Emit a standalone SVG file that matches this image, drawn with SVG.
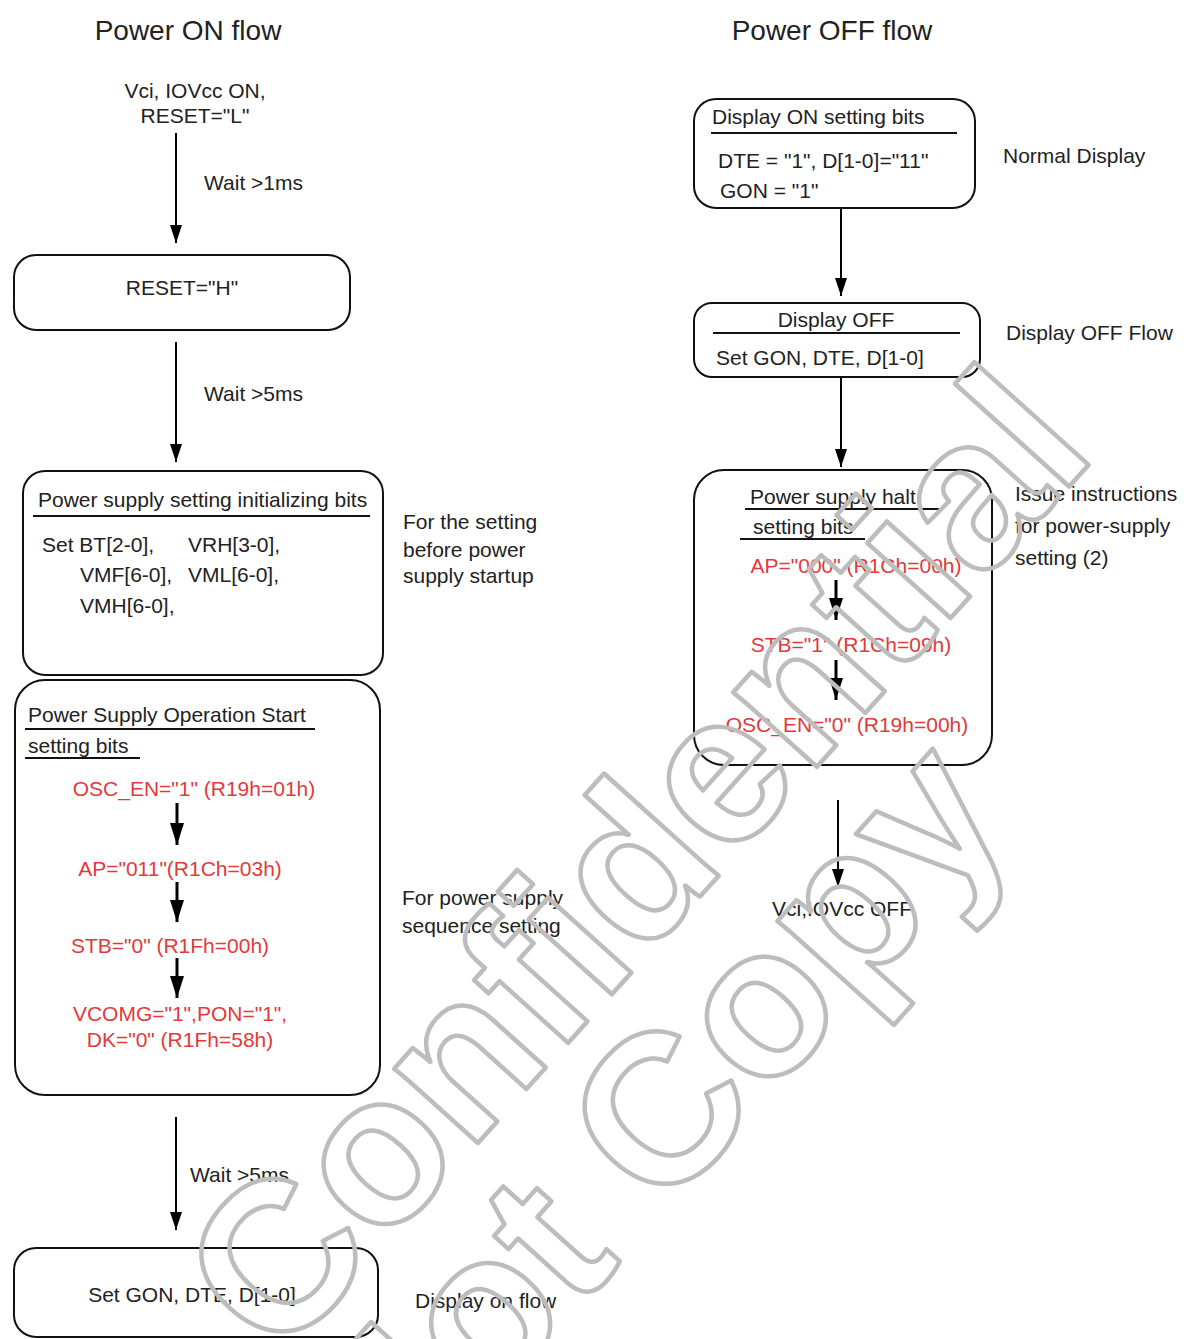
<svg xmlns="http://www.w3.org/2000/svg" width="1190" height="1339" viewBox="0 0 1190 1339">
<defs>
<marker id="ah" markerUnits="userSpaceOnUse" markerWidth="18" markerHeight="12" refX="18" refY="6" orient="auto"><path d="M0,0 L18,6 L0,12 z" fill="#000"/></marker>
<marker id="ahb" markerUnits="userSpaceOnUse" markerWidth="22" markerHeight="14" refX="22" refY="7" orient="auto"><path d="M0,0 L22,7 L0,14 z" fill="#000"/></marker>
<style>
text{font-family:"Liberation Sans",Arial,sans-serif;font-size:21px;fill:#222}
.title{font-size:28px}
.red{fill:#e23a3a}
.mid{text-anchor:middle}
.box{fill:none;stroke:#111;stroke-width:2}
.ul{stroke:#111;stroke-width:2}
.con{stroke:#000;stroke-width:2;fill:none;marker-end:url(#ah)}
.conb{stroke:#000;stroke-width:3;fill:none;marker-end:url(#ahb)}
.wm{font-size:212px;font-weight:bold;fill:none;stroke:#bdbdbd;stroke-width:4.5;stroke-linejoin:round}
</style>
</defs>
<rect width="1190" height="1339" fill="#fff"/>

<text class="title mid" x="188" y="40">Power ON flow</text>
<text class="title mid" x="832" y="40">Power OFF flow</text>

<g id="connectors">
<line class="con" x1="176" y1="133" x2="176" y2="243"/>
<line class="con" x1="176" y1="342" x2="176" y2="462"/>
<line class="conb" x1="177" y1="803" x2="177" y2="845"/>
<line class="conb" x1="177" y1="882" x2="177" y2="922"/>
<line class="conb" x1="177" y1="958" x2="177" y2="998"/>
<line class="con" x1="176" y1="1117" x2="176" y2="1230"/>
<line class="con" x1="841" y1="208" x2="841" y2="296"/>
<line class="con" x1="841" y1="378" x2="841" y2="467"/>
<line class="conb" x1="836" y1="580" x2="836" y2="620"/>
<line class="conb" x1="836" y1="660" x2="836" y2="700"/>
<line class="con" x1="838" y1="800" x2="838" y2="887"/>
<text x="204" y="190">Wait &gt;1ms</text>
<text x="204" y="401">Wait &gt;5ms</text>
<text x="190" y="1182">Wait &gt;5ms</text>
</g>

<g id="start">
<text class="mid" x="195" y="98">Vci, IOVcc ON,</text>
<text class="mid" x="195" y="123">RESET="L"</text>
</g>

<g id="reset-h">
<rect class="box" x="14" y="255" width="336" height="75" rx="22"/>
<text class="mid" x="182" y="295">RESET="H"</text>
</g>

<g id="init-bits">
<rect class="box" x="23" y="471" width="360" height="204" rx="22"/>
<text x="38" y="507">Power supply setting initializing bits</text>
<line class="ul" x1="33" y1="516" x2="370" y2="516"/>
<text x="42" y="552">Set BT[2-0],</text>
<text x="188" y="552">VRH[3-0],</text>
<text x="80" y="582">VMF[6-0],</text>
<text x="188" y="582">VML[6-0],</text>
<text x="80" y="613">VMH[6-0],</text>
<text x="403" y="529">For the setting</text>
<text x="403" y="557">before power</text>
<text x="403" y="583">supply startup</text>
</g>

<g id="op-start">
<rect class="box" x="15" y="680" width="365" height="415" rx="30"/>
<text x="28" y="722">Power Supply Operation Start</text>
<line class="ul" x1="25" y1="729" x2="315" y2="729"/>
<text x="28" y="753">setting bits</text>
<line class="ul" x1="25" y1="758" x2="140" y2="758"/>
<text class="red mid" x="194" y="796">OSC_EN="1" (R19h=01h)</text>
<text class="red mid" x="180" y="876">AP="011"(R1Ch=03h)</text>
<text class="red mid" x="170" y="953">STB="0" (R1Fh=00h)</text>
<text class="red mid" x="180" y="1021">VCOMG="1",PON="1",</text>
<text class="red mid" x="180" y="1047">DK="0" (R1Fh=58h)</text>
<text x="402" y="905">For power supply</text>
<text x="402" y="933">sequence setting</text>
</g>

<g id="display-on-flow">
<rect class="box" x="14" y="1248" width="364" height="89" rx="22"/>
<text class="mid" x="192" y="1302">Set GON, DTE, D[1-0]</text>
<text x="415" y="1308">Display on flow</text>
</g>

<g id="display-on-bits">
<rect class="box" x="694" y="99" width="281" height="109" rx="22"/>
<text x="712" y="124">Display ON setting bits</text>
<line class="ul" x1="711" y1="133" x2="957" y2="133"/>
<text x="718" y="168">DTE = "1", D[1-0]="11"</text>
<text x="720" y="198">GON = "1"</text>
<text x="1003" y="163">Normal Display</text>
</g>

<g id="display-off">
<rect class="box" x="694" y="303" width="286" height="74" rx="18"/>
<text class="mid" x="836" y="327">Display OFF</text>
<line class="ul" x1="713" y1="333" x2="960" y2="333"/>
<text x="716" y="365">Set GON, DTE, D[1-0]</text>
<text x="1006" y="340">Display OFF Flow</text>
</g>

<g id="halt-bits">
<rect class="box" x="694" y="470" width="298" height="295" rx="30"/>
<text x="750" y="504">Power supply halt</text>
<line class="ul" x1="745" y1="509" x2="940" y2="509"/>
<text x="753" y="534">setting bits</text>
<line class="ul" x1="740" y1="539" x2="865" y2="539"/>
<text class="red mid" x="856" y="573">AP="000" (R1Ch=00h)</text>
<text class="red mid" x="851" y="652">STB="1" (R1Ch=09h)</text>
<text class="red mid" x="847" y="732">OSC_EN="0" (R19h=00h)</text>
<text x="1015" y="501">Issue instructions</text>
<text x="1015" y="533">for power-supply</text>
<text x="1015" y="565">setting (2)</text>
</g>

<g id="end">
<text class="mid" x="842" y="916">Vci,IOVcc OFF</text>
</g>

<g id="watermark" transform="translate(279,1364) rotate(-48)">
<text class="wm" x="0" y="0">Confidential</text>
<text class="wm" x="-46" y="186">Not Copy</text>
</g>
</svg>
